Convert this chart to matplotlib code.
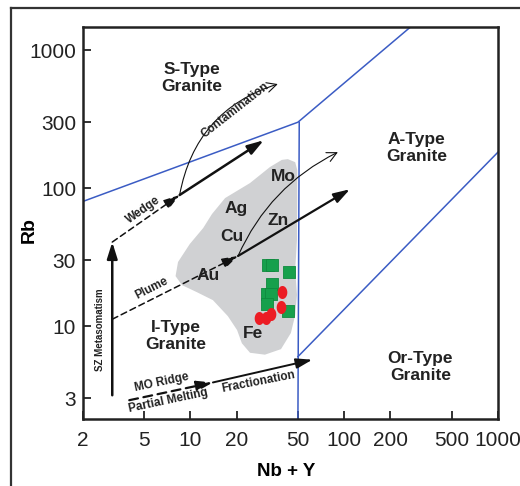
import matplotlib as mpl
mpl.use('Agg')
import matplotlib.pyplot as plt
from matplotlib.lines import Line2D
from matplotlib.path import Path
import numpy as np

plt.rcParams['font.family'] = ['Liberation Sans', 'DejaVu Sans']

# field boundaries (Nb+Y, Rb)
bnd1_x = [2, 50, 270]
bnd1_y = [80, 300, 1470]
bnd2_x = [51, 50]
bnd2_y = [300, 2.1]
bnd3_x = [50, 1000]
bnd3_y = [6.0, 182]

# grey field of the deposits
gray_x = [43.0, 48.0, 49.5, 49.5, 49.3, 48.0, 49.3, 48.0, 45.0, 38.8, 30.5, 24.4,
          21.6, 20.1, 17.5, 14.0, 11.0, 8.8, 8.0, 8.3, 9.9, 12.1, 13.8, 16.8,
          24.4, 32.9, 39.3]
gray_y = [162, 154, 135, 82, 42, 25.5, 16.8, 12.0, 8.9, 6.8, 6.2, 6.4, 7.5, 9.35,
          11.8, 15.4, 17.6, 19.8, 23.0, 29.1, 39.3, 51.3, 64.8, 84.6, 108.7, 142, 160]

# samples
green_x = [31.8, 34.0, 43.9, 33.7, 31.3, 33.4, 31.3, 43.3]
green_y = [27.7, 27.7, 24.5, 20.1, 17.0, 17.0, 14.4, 12.8]
red_x = [39.2, 38.8, 27.9, 30.8, 33.4]
red_y = [17.5, 13.7, 11.5, 11.4, 12.2]

# key points of the process arrows
sz_bot = (3.1, 3.15)
wedge_start = (3.1, 40.6)
wedge_node = (8.5, 89)
wedge_end = (30, 222)
contam_end = (37, 567)
plume_start = (3.1, 11.2)
cu_node = (20.4, 32.2)
thick_end = (109, 98)
thin_end = (91, 182)
mo_start = (4.0, 2.9)
mo_node = (14, 3.9)
frac_end = (62, 5.7)

fields = ['S-Type\nGranite', 'A-Type\nGranite', 'I-Type\nGranite', 'Or-Type\nGranite']
fields_x = [10.2, 295, 8.05, 313]
fields_y = [625, 195, 8.5, 5.05]

metals = ['Mo', 'Ag', 'Zn', 'Cu', 'Au', 'Fe']
metals_x = [40.1, 19.7, 37.2, 18.5, 13.1, 25.6]
metals_y = [120.8, 71.3, 58.6, 44.4, 23.4, 8.85]

notes = ['Wedge', 'Plume', 'Contamination', 'MO Ridge', 'Partial Melting', 'Fractionation']
notes_x = [4.93, 5.59, 19.5, 6.5, 7.17, 27.6]
notes_y = [69.3, 18.9, 367, 3.88, 2.88, 3.95]
notes_rot = [35, 27, 38, 12, 12, 11]

xticks = [2, 5, 10, 20, 50, 100, 200, 500, 1000]
yticks = [3, 10, 30, 100, 300, 1000]

fig = plt.figure(figsize=(5.2, 4.86), dpi=100)
ax = fig.add_axes([0.1596, 0.1379, 0.798, 0.8066])
ax.set_xscale('log')
ax.set_yscale('log')
ax.set_xlim(2, 1000)
ax.set_ylim(2.12, 1470)

blue = '#3b5cc4'
for bx, by in [(bnd1_x, bnd1_y), (bnd2_x, bnd2_y), (bnd3_x, bnd3_y)]:
    ax.plot(bx, by, color=blue, lw=1.1, zorder=2)

ax.fill(gray_x, gray_y, color='#d0d1d3', lw=0, zorder=1)

ax.scatter(green_x, green_y, marker='s', s=64, color='#16a04c', edgecolors='#0f8a3e',
           linewidths=0.6, zorder=5)
t = np.linspace(0, 2 * np.pi, 40)
ell = Path(np.column_stack([np.cos(t), 1.35 * np.sin(t)]))
ax.scatter(red_x, red_y, marker=ell, s=88, color='#ec1c24', lw=0, zorder=6)


def arrow(p0, p1, lw=1.6, ls='-', style='-|>,head_length=0.7,head_width=0.22',
          rad=0.0, ms=14):
    ax.annotate('', xy=p1, xytext=p0, zorder=4,
                arrowprops=dict(arrowstyle=style, lw=lw, color='#111111', linestyle=ls,
                                shrinkA=0, shrinkB=0, mutation_scale=ms,
                                connectionstyle='arc3,rad=%s' % rad))


arrow(sz_bot, wedge_start, lw=1.8)
arrow(wedge_start, wedge_node, lw=1.1, ls=(0, (4, 2.5)))
arrow(wedge_node, wedge_end, lw=1.8)
arrow(wedge_node, contam_end, lw=0.8, style='->,head_length=0.5,head_width=0.25', rad=-0.3)
arrow(plume_start, cu_node, lw=1.1, ls=(0, (4, 2.5)))
arrow(cu_node, thick_end, lw=1.6)
arrow(cu_node, thin_end, lw=0.8, style='->,head_length=0.5,head_width=0.25', rad=-0.18)
arrow(mo_start, mo_node, lw=1.6, ls=(0, (4, 2.5)))
arrow(mo_node, frac_end, lw=1.4)

for s, x, y in zip(fields, fields_x, fields_y):
    ax.text(x, y, s, fontsize=12.5, fontweight='bold', ha='center', va='center',
            linespacing=1.15, color='#222222', zorder=7)
for s, x, y in zip(metals, metals_x, metals_y):
    ax.text(x, y, s, fontsize=12.5, fontweight='bold', ha='center', va='center',
            color='#222222', zorder=7)
for s, x, y, r in zip(notes, notes_x, notes_y, notes_rot):
    ax.text(x, y, s, fontsize=8.5, fontweight='bold', ha='center', va='center',
            rotation=r, rotation_mode='anchor', color='#222222', zorder=7)
ax.text(2.58, 9.35, 'SZ Metasomatism', fontsize=7, fontweight='bold', rotation=90,
        ha='center', va='center', color='#222222', zorder=7)

ax.set_xticks(xticks)
ax.set_xticklabels([str(v) for v in xticks])
ax.set_yticks(yticks)
ax.set_yticklabels([str(v) for v in yticks])
ax.minorticks_off()
ax.tick_params(direction='in', length=6, width=1.3, labelsize=15, colors='#222222')
ax.tick_params(axis='x', pad=9)
ax.tick_params(axis='y', pad=5)
for sp in ax.spines.values():
    sp.set_linewidth(1.8)
    sp.set_color('#222222')

ax.set_xlabel('Nb + Y', fontsize=13.5, fontweight='bold')
ax.set_ylabel('Rb', fontsize=14, fontweight='bold')
ax.xaxis.set_label_coords(0.489, -0.112)
ax.yaxis.set_label_coords(-0.108, 0.482)

# outer frame (top and left edges)
fig.add_artist(Line2D([0.0212, 1.0], [0.9835, 0.9835], color='#333333', lw=1.6))
fig.add_artist(Line2D([0.0212, 0.0212], [0.0, 0.9835], color='#333333', lw=1.6))

plt.savefig('out.png', dpi=100)
